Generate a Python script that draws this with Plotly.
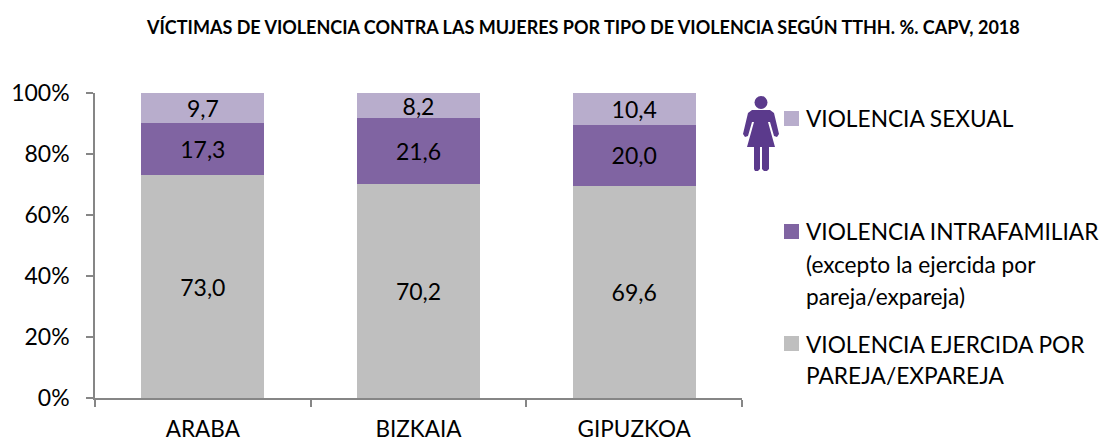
import plotly.graph_objects as go

W, H = 1102, 441
L, R, T, B = 95, 742, 93, 398

categories = ["ARABA", "BIZKAIA", "GIPUZKOA"]
pareja = [73.0, 70.2, 69.6]
intrafamiliar = [17.3, 21.6, 20.0]
sexual = [9.7, 8.2, 10.4]
y_ticks = [0, 20, 40, 60, 80, 100]
y_tick_labels = ["0%", "20%", "40%", "60%", "80%", "100%"]
series_names = ["VIOLENCIA EJERCIDA POR PAREJA/EXPAREJA",
                "VIOLENCIA INTRAFAMILIAR (excepto la ejercida por pareja/expareja)",
                "VIOLENCIA SEXUAL"]
colors = ["#BFBFBF", "#8064A2", "#B8ADCC"]
title = "VÍCTIMAS DE VIOLENCIA CONTRA LAS MUJERES POR TIPO DE VIOLENCIA SEGÚN TTHH. %. CAPV, 2018"
FONT = "Lato"
AXIS = "#868686"
ICON = "#5B3A8C"

def px(x):
    return (x - L) / (R - L)

def py(y):
    return (B - y) / (B - T)

fig = go.Figure()
for name, vals, col in zip(series_names, [pareja, intrafamiliar, sexual], colors):
    fig.add_bar(x=categories, y=vals, name=name, marker=dict(color=col, line_width=0),
                texttemplate="%{y:.1f}", textposition="inside", insidetextanchor="middle",
                textangle=0, constraintext="none",
                textfont=dict(family=FONT, size=23, color="#000000"))

shapes, annotations = [], []

def label(x, y, text, size=22.7, anchor="left", bold=False):
    annotations.append(dict(xref="paper", yref="paper", x=px(x), y=py(y), text=f"<b>{text}</b>" if bold else text,
                            showarrow=False, xanchor=anchor, yanchor="middle",
                            font=dict(family=FONT, size=size, color="#000000"), borderpad=0))

label(583, 27, title, size=18, anchor="center", bold=True)

for top, col in [(111, colors[2]), (224, colors[1]), (336, colors[0])]:
    shapes.append(dict(type="rect", xref="paper", yref="paper", x0=px(784), x1=px(799), y0=py(top), y1=py(top + 15),
                       fillcolor=col, line_width=0))

for y, t in [(118, "VIOLENCIA SEXUAL"), (231, "VIOLENCIA INTRAFAMILIAR"), (264, "(excepto la ejercida por"),
             (296, "pareja/expareja)"), (344, "VIOLENCIA EJERCIDA POR"), (375, "PAREJA/EXPAREJA")]:
    label(805, y, t)

# pictogram of a woman
shapes.append(dict(type="circle", xref="paper", yref="paper", x0=px(754.5), x1=px(767.5), y0=py(96), y1=py(109),
                   fillcolor=ICON, line_width=0))
outline = [(752, 110), (770, 110), (774, 113), (779, 134), (777, 137), (774, 136), (770, 122), (768, 122), (775, 147),
           (769, 147), (769, 169), (767, 171), (764, 171), (762, 169), (762, 147), (760, 147), (760, 169), (758, 171),
           (755, 171), (754, 169), (754, 147), (747, 147), (754, 122), (752, 122), (748, 136), (745, 137), (743, 134),
           (748, 113)]
path = "M " + " L ".join(f"{px(x):.5f},{py(y):.5f}" for x, y in outline) + " Z"
shapes.append(dict(type="path", xref="paper", yref="paper", path=path, fillcolor=ICON, line_width=0))

fig.update_layout(
    width=W, height=H, autosize=False, barmode="stack", bargap=0.43, showlegend=False,
    separators=",.", plot_bgcolor="white", paper_bgcolor="white",
    margin=dict(l=L, r=W - R, t=T, b=H - B, pad=0, autoexpand=False),
    font=dict(family=FONT, size=23, color="#000000"),
    shapes=shapes, annotations=annotations,
    xaxis=dict(automargin=False, tickson="boundaries", ticks="outside", ticklen=7, tickcolor=AXIS, tickwidth=1.5,
               ticklabelstandoff=10, showline=True, linecolor=AXIS, linewidth=1.5, showgrid=False,
               tickfont=dict(family=FONT, size=22.5)),
    yaxis=dict(automargin=False, range=[0, 100], tickmode="array", tickvals=y_ticks, ticktext=y_tick_labels,
               ticks="outside", ticklen=7, ticklabelstandoff=12, tickcolor=AXIS, tickwidth=1.5, showline=True,
               linecolor=AXIS, linewidth=1.5, showgrid=False, tickfont=dict(family=FONT, size=23)),
)
fig.write_html("out.html", config={"displayModeBar": False},
               post_script="document.body.style.margin='0';document.body.style.overflow='hidden';")
